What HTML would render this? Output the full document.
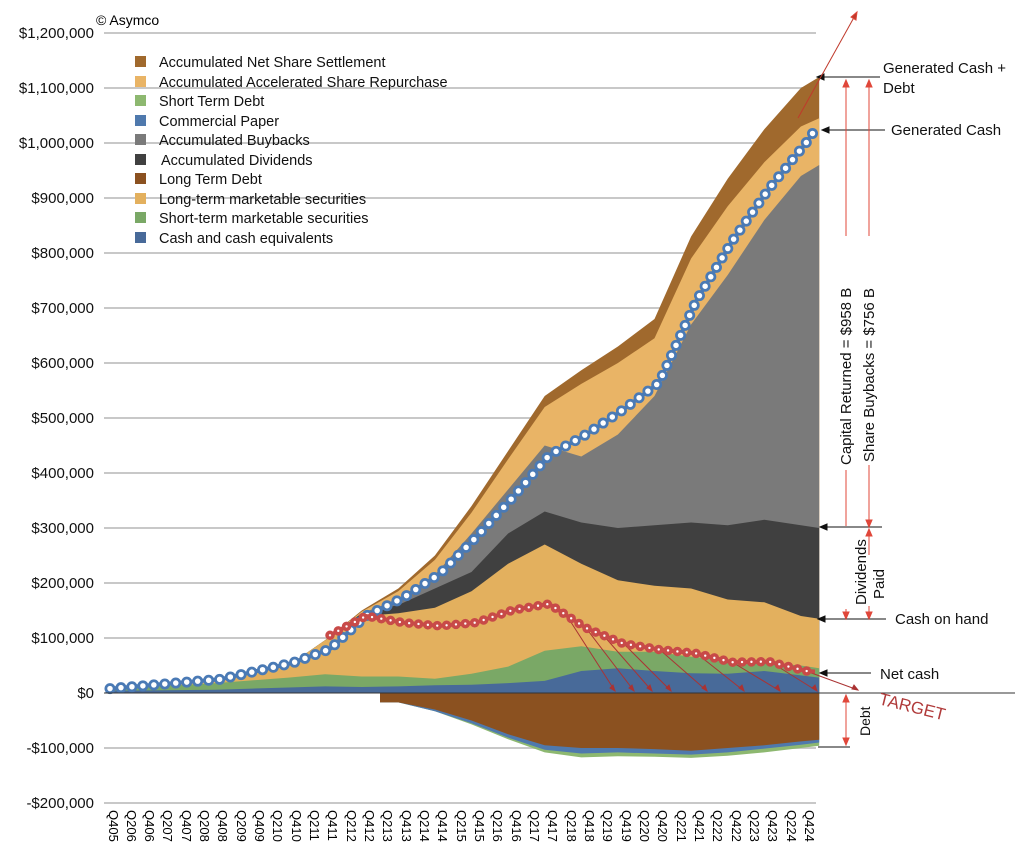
<!DOCTYPE html>
<html><head><meta charset="utf-8"><style>
body{margin:0;background:#fff;}
svg{display:block;font-family:"Liberation Sans",sans-serif;}
</style></head><body>
<svg width="1025" height="865" viewBox="0 0 1025 865">
<g stroke="#c8c8c8" stroke-width="2">
<line x1="104" x2="816" y1="33" y2="33"/><line x1="104" x2="816" y1="88" y2="88"/><line x1="104" x2="816" y1="143" y2="143"/><line x1="104" x2="816" y1="198" y2="198"/><line x1="104" x2="816" y1="253" y2="253"/><line x1="104" x2="816" y1="308" y2="308"/><line x1="104" x2="816" y1="363" y2="363"/><line x1="104" x2="816" y1="418" y2="418"/><line x1="104" x2="816" y1="473" y2="473"/><line x1="104" x2="816" y1="528" y2="528"/><line x1="104" x2="816" y1="583" y2="583"/><line x1="104" x2="816" y1="638" y2="638"/><line x1="104" x2="816" y1="748" y2="748"/><line x1="104" x2="816" y1="803" y2="803"/>
</g>
<polygon fill="#a0692d" points="105.5,693 105.5,688.6 215.3,679.3 251.9,671 288.5,665.5 325.1,640.2 361.7,610.5 398.3,588.5 434.9,555.5 471.5,506 508.1,451 544.7,396 581.3,370.2 617.9,346.5 654.5,319 691.1,236.5 727.7,178.8 764.3,129.3 800.9,88 819.2,77 819.2,693"/>
<polygon fill="#e9b466" points="105.5,693 105.5,688.6 215.3,679.3 251.9,671 288.5,665.5 325.1,640.2 361.7,611.6 398.3,591.3 434.9,559.9 471.5,512.6 508.1,459.3 544.7,407 581.3,383.9 617.9,363 654.5,338.3 691.1,258.5 727.7,206.3 764.3,162.3 800.9,126.5 819.2,118.3 819.2,693"/>
<polygon fill="#7a7a7a" points="105.5,693 105.5,688.6 215.3,679.3 251.9,671 288.5,665.5 325.1,640.2 361.7,613.3 398.3,599.5 434.9,574.8 471.5,533.5 508.1,489.5 544.7,445.5 581.3,456.5 617.9,434.5 654.5,396 691.1,324.5 727.7,275 764.3,220 800.9,176 819.2,165 819.2,693"/>
<polygon fill="#404040" points="105.5,693 105.5,688.6 215.3,679.3 251.9,671 288.5,665.5 325.1,640.2 361.7,613.3 398.3,605 434.9,588.5 471.5,572 508.1,533.5 544.7,511.5 581.3,522.5 617.9,528 654.5,525.3 691.1,522.5 727.7,525.3 764.3,519.8 800.9,525.3 819.2,528 819.2,693"/>
<polygon fill="#e3b05e" points="105.5,693 105.5,688.6 215.3,679.3 251.9,671 288.5,665.5 325.1,640.2 361.7,616 398.3,613.3 434.9,607.8 471.5,591.3 508.1,563.8 544.7,544.5 581.3,563.8 617.9,580.3 654.5,585.8 691.1,588.5 727.7,599.5 764.3,602.3 800.9,616 819.2,618.8 819.2,693"/>
<polygon fill="#7aa866" points="105.5,693 105.5,689.2 215.3,683.1 251.9,680.4 288.5,677.6 325.1,674.3 361.7,676.5 398.3,676.5 434.9,678.7 471.5,673.8 508.1,666.6 544.7,650.7 581.3,646.3 617.9,651.8 654.5,651.8 691.1,656.7 727.7,660 764.3,662.8 800.9,665.5 819.2,668.3 819.2,693"/>
<polygon fill="#486a99" points="105.5,693 105.5,690.8 215.3,689.7 251.9,688.6 288.5,687.5 325.1,686.4 361.7,687 398.3,686.4 434.9,685.3 471.5,684.8 508.1,683.1 544.7,680.9 581.3,671 617.9,668.3 654.5,671 691.1,673.2 727.7,673.8 764.3,671 800.9,675.4 819.2,677.6 819.2,693"/>
<polygon fill="#8db870" points="380,693 380,702.4 398.3,702.4 434.9,711.2 471.5,724.4 508.1,739.2 544.7,752.4 581.3,757.4 617.9,756.3 654.5,756.8 691.1,757.9 727.7,755.7 764.3,752.4 800.9,748 819.2,745.8 819.2,693"/>
<polygon fill="#4f79ad" points="380,693 380,702.4 398.3,702.4 434.9,711.2 471.5,723.3 508.1,737.6 544.7,749.7 581.3,753.5 617.9,752.4 654.5,753.5 691.1,754.6 727.7,752.4 764.3,748.6 800.9,744.7 819.2,742.5 819.2,693"/>
<polygon fill="#8b5120" points="380,693 380,702.4 398.3,702.4 434.9,709.5 471.5,720.5 508.1,734.3 544.7,745.3 581.3,748 617.9,748 654.5,749.1 691.1,750.8 727.7,748 764.3,745.3 800.9,741.4 819.2,739.8 819.2,693"/>
<g stroke="#a33" stroke-width="1" fill="#a33">
<line x1="567" y1="616" x2="615" y2="691"/><line x1="586" y1="628" x2="634" y2="691"/><line x1="604" y1="636" x2="652" y2="691"/><line x1="623" y1="643" x2="671" y2="691"/><line x1="659" y1="649" x2="707" y2="691"/><line x1="696" y1="653" x2="744" y2="691"/><line x1="732" y1="662" x2="780" y2="691"/><line x1="769" y1="661" x2="817" y2="691"/><line x1="806" y1="671" x2="858" y2="690"/>
<path d="M615,691 l-5,-3 l3,-3z"/><path d="M634,691 l-5,-3 l3,-3z"/><path d="M652,691 l-5,-3 l3,-3z"/><path d="M671,691 l-5,-3 l3,-3z"/><path d="M707,691 l-5,-3 l3,-3z"/><path d="M744,691 l-5,-3 l3,-3z"/><path d="M780,691 l-5,-3 l3,-3z"/><path d="M817,691 l-5,-3 l3,-3z"/><path d="M858,690 l-6,-1 l2,-4z"/>
</g>
<polyline fill="none" stroke="#4a7ab5" stroke-width="4" points="110,688.6 220,679.3 257,671 293,662.8 330,649 366,616 403,597.9 440,573.7 476,537.4 513,497.2 549,455.4 586,434.5 623,409.8 659,382.8 696,301.4 732,241.5 769,188.7 806,143 815,129.8"/>
<polyline fill="none" stroke="#4a7ab5" stroke-width="11" stroke-linecap="round" stroke-dasharray="0 11" points="110,688.6 220,679.3 257,671 293,662.8 330,649 366,616 403,597.9 440,573.7 476,537.4 513,497.2 549,455.4 586,434.5 623,409.8 659,382.8 696,301.4 732,241.5 769,188.7 806,143 815,129.8"/>
<polyline fill="none" stroke="#fff" stroke-width="5.5" stroke-linecap="round" stroke-dasharray="0 11" points="110,688.6 220,679.3 257,671 293,662.8 330,649 366,616 403,597.9 440,573.7 476,537.4 513,497.2 549,455.4 586,434.5 623,409.8 659,382.8 696,301.4 732,241.5 769,188.7 806,143 815,129.8"/>
<polyline fill="none" stroke="#c84a48" stroke-width="4" points="330,635.3 366,616 403,622.6 440,625.9 476,622.6 513,610 549,603.9 586,628 623,643.5 659,649.5 696,653.4 732,662.2 769,661.6 806,671 815,671.5"/>
<polyline fill="none" stroke="#c84a48" stroke-width="9.5" stroke-linecap="round" stroke-dasharray="0 9.4" points="330,635.3 366,616 403,622.6 440,625.9 476,622.6 513,610 549,603.9 586,628 623,643.5 659,649.5 696,653.4 732,662.2 769,661.6 806,671 815,671.5"/>
<polyline fill="none" stroke="#fff" stroke-width="2.4" stroke-linecap="round" stroke-dasharray="0 9.4" points="330,635.3 366,616 403,622.6 440,625.9 476,622.6 513,610 549,603.9 586,628 623,643.5 659,649.5 696,653.4 732,662.2 769,661.6 806,671 815,671.5"/>
<line x1="104" x2="1015" y1="693" y2="693" stroke="#333" stroke-width="1"/>
<g font-size="15" text-anchor="end" fill="#111">
<text x="94" y="38">$1,200,000</text><text x="94" y="93">$1,100,000</text><text x="94" y="148">$1,000,000</text><text x="94" y="203">$900,000</text><text x="94" y="258">$800,000</text><text x="94" y="313">$700,000</text><text x="94" y="368">$600,000</text><text x="94" y="423">$500,000</text><text x="94" y="478">$400,000</text><text x="94" y="533">$300,000</text><text x="94" y="588">$200,000</text><text x="94" y="643">$100,000</text><text x="94" y="698">$0</text><text x="94" y="753">-$100,000</text><text x="94" y="808">-$200,000</text>
</g>
<text x="96" y="25" font-size="14">© Asymco</text>
<g font-size="13">
<text transform="translate(109,810) rotate(90)">Q405</text><text transform="translate(127,810) rotate(90)">Q206</text><text transform="translate(145,810) rotate(90)">Q406</text><text transform="translate(163,810) rotate(90)">Q207</text><text transform="translate(182,810) rotate(90)">Q407</text><text transform="translate(200,810) rotate(90)">Q208</text><text transform="translate(218,810) rotate(90)">Q408</text><text transform="translate(237,810) rotate(90)">Q209</text><text transform="translate(255,810) rotate(90)">Q409</text><text transform="translate(273,810) rotate(90)">Q210</text><text transform="translate(292,810) rotate(90)">Q410</text><text transform="translate(310,810) rotate(90)">Q211</text><text transform="translate(328,810) rotate(90)">Q411</text><text transform="translate(347,810) rotate(90)">Q212</text><text transform="translate(365,810) rotate(90)">Q412</text><text transform="translate(383,810) rotate(90)">Q213</text><text transform="translate(402,810) rotate(90)">Q413</text><text transform="translate(420,810) rotate(90)">Q214</text><text transform="translate(438,810) rotate(90)">Q414</text><text transform="translate(457,810) rotate(90)">Q215</text><text transform="translate(475,810) rotate(90)">Q415</text><text transform="translate(493,810) rotate(90)">Q216</text><text transform="translate(512,810) rotate(90)">Q416</text><text transform="translate(530,810) rotate(90)">Q217</text><text transform="translate(548,810) rotate(90)">Q417</text><text transform="translate(567,810) rotate(90)">Q218</text><text transform="translate(585,810) rotate(90)">Q418</text><text transform="translate(603,810) rotate(90)">Q219</text><text transform="translate(622,810) rotate(90)">Q419</text><text transform="translate(640,810) rotate(90)">Q220</text><text transform="translate(658,810) rotate(90)">Q420</text><text transform="translate(677,810) rotate(90)">Q221</text><text transform="translate(695,810) rotate(90)">Q421</text><text transform="translate(713,810) rotate(90)">Q222</text><text transform="translate(732,810) rotate(90)">Q422</text><text transform="translate(750,810) rotate(90)">Q223</text><text transform="translate(768,810) rotate(90)">Q423</text><text transform="translate(787,810) rotate(90)">Q224</text><text transform="translate(805,810) rotate(90)">Q424</text>
</g>
<g font-size="14.5" fill="#111">
<rect x="135" y="56" width="11" height="11" fill="#a0692d"/><text x="159" y="67">Accumulated Net Share Settlement</text>
<rect x="135" y="76" width="11" height="11" fill="#e9b466"/><text x="159" y="87">Accumulated Accelerated Share Repurchase</text>
<rect x="135" y="95" width="11" height="11" fill="#8db870"/><text x="159" y="106">Short Term Debt</text>
<rect x="135" y="115" width="11" height="11" fill="#4f79ad"/><text x="159" y="126">Commercial Paper</text>
<rect x="135" y="134" width="11" height="11" fill="#7a7a7a"/><text x="159" y="145">Accumulated Buybacks</text>
<rect x="135" y="154" width="11" height="11" fill="#404040"/><text x="161" y="165">Accumulated Dividends</text>
<rect x="135" y="173" width="11" height="11" fill="#8b5120"/><text x="159" y="184">Long Term Debt</text>
<rect x="135" y="193" width="11" height="11" fill="#e3b05e"/><text x="159" y="204">Long-term marketable securities</text>
<rect x="135" y="212" width="11" height="11" fill="#7aa866"/><text x="159" y="223">Short-term marketable securities</text>
<rect x="135" y="232" width="11" height="11" fill="#486a99"/><text x="159" y="243">Cash and cash equivalents</text>
</g>
<g stroke="#111" stroke-width="1" fill="#111">
<line x1="817" y1="77" x2="880" y2="77"/><path d="M817,77 l7,-3 v6z"/>
<line x1="822" y1="130" x2="885" y2="130"/><path d="M822,130 l7,-3 v6z"/>
<line x1="820" y1="527" x2="882" y2="527"/><path d="M820,527 l7,-3 v6z"/>
<line x1="818" y1="619" x2="886" y2="619"/><path d="M818,619 l7,-3 v6z"/>
<line x1="820" y1="673" x2="871" y2="673"/><path d="M820,673 l7,-3 v6z"/>
<line x1="818" y1="747" x2="850" y2="747"/>
</g>
<g stroke="#e0473a" stroke-width="1" fill="#e0473a">
<line x1="846" y1="80" x2="846" y2="236"/><line x1="846" y1="470" x2="846" y2="526"/><line x1="846" y1="609" x2="846" y2="619"/>
<path d="M846,80 l-3,7 h6z"/><path d="M846,619 l-3,-7 h6z"/>
<line x1="869" y1="80" x2="869" y2="236"/><line x1="869" y1="465" x2="869" y2="527"/>
<path d="M869,80 l-3,7 h6z"/><path d="M869,527 l-3,-7 h6z"/>
<line x1="869" y1="529" x2="869" y2="555"/><line x1="869" y1="606" x2="869" y2="619"/>
<path d="M869,529 l-3,7 h6z"/><path d="M869,619 l-3,-7 h6z"/>
<line x1="846" y1="695" x2="846" y2="745"/><path d="M846,695 l-3,7 h6z"/><path d="M846,745 l-3,-7 h6z"/>
<line x1="798" y1="118" x2="857" y2="12" stroke="#c0392b"/><path d="M857,12 l-1,8 l-5,-3z" fill="#c0392b"/>
</g>
<g font-size="15" fill="#111">
<text x="883" y="73">Generated Cash +</text><text x="883" y="93">Debt</text>
<text x="891" y="135">Generated Cash</text>
<text x="895" y="624">Cash on hand</text>
<text x="880" y="679">Net cash</text>
<text transform="translate(851,465) rotate(-90)">Capital Returned = $958 B</text>
<text transform="translate(874,462) rotate(-90)">Share Buybacks = $756 B</text>
<text transform="translate(866,605) rotate(-90)">Dividends</text>
<text transform="translate(884,599) rotate(-90)">Paid</text>
<text transform="translate(870,736) rotate(-90)" font-size="14">Debt</text>
<text transform="translate(878,704) rotate(14)" fill="#b03a3a" font-size="17">TARGET</text>
</g>
</svg>
</body></html>
